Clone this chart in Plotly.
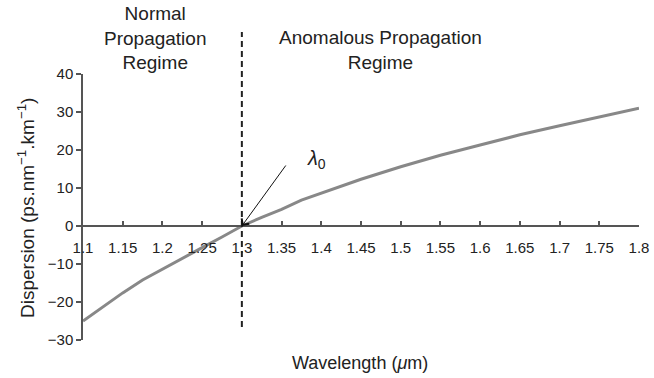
import plotly.graph_objects as go

# Data
wavelength = [1.1, 1.125, 1.15, 1.175, 1.2, 1.225, 1.25, 1.275, 1.3, 1.325, 1.35, 1.375,
              1.4, 1.425, 1.45, 1.5, 1.55, 1.6, 1.65, 1.7, 1.75, 1.8]
dispersion = [-25, -21.2, -17.6, -14.2, -11.3, -8.5, -5.7, -2.9, 0, 2.3, 4.4, 6.8,
              8.7, 10.6, 12.3, 15.6, 18.6, 21.3, 24, 26.4, 28.7, 31]
x_ticks = [1.1, 1.15, 1.2, 1.25, 1.3, 1.35, 1.4, 1.45, 1.5, 1.55, 1.6, 1.65, 1.7, 1.75, 1.8]
x_tick_labels = ["1.1", "1.15", "1.2", "1.25", "1.3", "1.35", "1.4", "1.45", "1.5",
                 "1.55", "1.6", "1.65", "1.7", "1.75", "1.8"]
y_ticks = [-30, -20, -10, 0, 10, 20, 30, 40]
lambda0 = 1.3

W, H = 654, 378
L, R, T, B = 83, 15, 74, 38
PW, PH = W - L - R, H - T - B

def px(xp):
    return (xp - L) / PW

def py(yp):
    return (H - B - yp) / PH

FONT = "Liberation Sans, Arial, Helvetica, sans-serif"
TXT = "#222222"
AX = "#555555"

fig = go.Figure()
fig.add_trace(go.Scatter(x=wavelength, y=dispersion, mode="lines",
                         line=dict(color="#888888", width=3), cliponaxis=False,
                         showlegend=False))

fig.update_layout(
    width=W, height=H, autosize=False,
    margin=dict(l=L, r=R, t=T, b=B, pad=0, autoexpand=False),
    paper_bgcolor="white", plot_bgcolor="white",
    font=dict(family=FONT, color=TXT, size=15),
    xaxis=dict(range=[1.1, 1.8], tickvals=x_ticks, ticktext=x_tick_labels,
               showgrid=False, zeroline=False, showline=True, linecolor=AX, linewidth=1.5,
               ticks="inside", ticklen=4, tickcolor=AX, tickwidth=1.5,
               anchor="free", position=30 / 70, ticklabelstandoff=8, automargin=False,
               tickfont=dict(size=15, color=TXT)),
    yaxis=dict(range=[-30, 40], tickvals=y_ticks, automargin=False,
               showgrid=False, zeroline=False, showline=True, linecolor=AX, linewidth=1.5,
               ticks="outside", ticklen=5, tickcolor=AX, tickwidth=1.5,
               tickfont=dict(size=15, color=TXT)),
)

# dashed vertical line at lambda0
fig.add_shape(type="line", xref="x", yref="paper", x0=lambda0, x1=lambda0,
              y0=py(327), y1=py(32), line=dict(color="#222222", width=2, dash="6px,4px"))

ann = [
    dict(text="Normal<br>Propagation<br>Regime", x=px(155), y=py(38), size=19),
    dict(text="Anomalous Propagation<br>Regime", x=px(380), y=py(49.5), size=19),
    dict(text="Wavelength (<i>\u03bc</i>m)", x=px(360), y=py(363), size=18),
]
for a in ann:
    fig.add_annotation(text=a["text"], x=a["x"], y=a["y"], xref="paper", yref="paper",
                       showarrow=False, xanchor="center", yanchor="middle",
                       font=dict(size=a["size"], color=TXT, family=FONT))

fig.add_annotation(text="Dispersion (ps.nm<sup>\u22121</sup>.km<sup>\u22121</sup>)",
                   x=px(26), y=py(208), xref="paper", yref="paper", showarrow=False,
                   textangle=-90, xanchor="center", yanchor="middle",
                   font=dict(size=19, color=TXT, family=FONT))

fig.add_annotation(text="<i>\u03bb</i><sub>0</sub>", x=px(316), y=py(159), xref="paper",
                   yref="paper", showarrow=False, xanchor="center", yanchor="middle",
                   font=dict(size=20, color=TXT, family=FONT))

# arrow pointing to lambda0 on the curve
fig.add_annotation(text="", x=lambda0, y=0, xref="x", yref="y", showarrow=True,
                   ax=45, ay=-62, arrowhead=4, arrowsize=1.8, arrowwidth=1,
                   arrowcolor="#111111", standoff=0)

fig.write_html("out.html")
